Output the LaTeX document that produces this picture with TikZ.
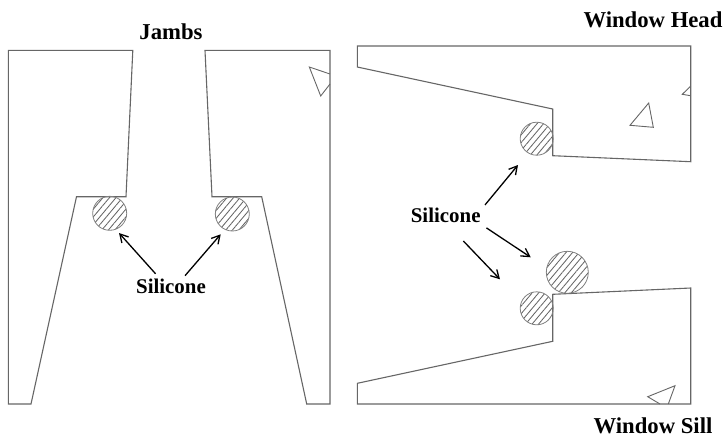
\documentclass[tikz,border=0pt]{standalone}
\usepackage{fontspec}
\setmainfont{Liberation Serif}
\usetikzlibrary{arrows.meta,patterns.meta}

\tikzset{
  outline/.style={draw=black!60,line width=1.1pt,line join=miter},
  sealant/.style={draw=black!50,circle,inner sep=0pt,line width=0.8pt,
    pattern={Lines[angle=50,distance=5pt,line width=0.85pt]},pattern color=black!60},
  heading/.style={inner sep=0pt,font=\fontsize{22.7}{24}\selectfont\bfseries},
  callout/.style={inner sep=0pt,font=\fontsize{20.9}{23}\selectfont\bfseries},
  pointer/.style={-{Straight Barb[length=8pt,width=9pt]},line width=1.3pt}
}

\begin{document}
\begin{tikzpicture}[x=1pt,y=-1pt]
\useasboundingbox (0,0) rectangle (725,437);

% frame pieces
\draw[outline] (8.4,50.4)--(132.8,50.4)--(126,196.7)--(76.5,196.7)--(31,404)--(8.4,404)--cycle;
\draw[outline] (205,50.4)--(330,50.4)--(330,404)--(306.7,404)--(261.7,196.7)--(212,196.7)--cycle;
\draw[outline] (357.3,46)--(690.7,46)--(690.7,161.7)--(552.7,155.7)--(552.7,109)--(357.3,67)--cycle;
\draw[outline] (357.3,383.3)--(552.7,341.3)--(552.7,294.3)--(690.7,288)--(690.7,404)--(357.3,404)--cycle;

% small triangles
\draw[outline,line width=0.9pt] (330,74)--(309.3,67)--(320.7,96)--(330,84);
\draw[outline,line width=0.9pt] (648.7,103)--(630,125.3)--(653.3,127.3)--cycle;
\draw[outline,line width=0.9pt] (690.7,86)--(682.3,94.3)--(690.7,95.7);
\draw[outline,line width=0.9pt] (660,404)--(647.7,396.7)--(675,385.7)--(668.3,404);

% silicone beads
\node[sealant,minimum size=34pt] (beadA) at (109.7,213.3) {};
\node[sealant,minimum size=34pt] (beadB) at (232.3,214) {};
\node[sealant,minimum size=33pt] (beadC) at (536.7,138.7) {};
\node[sealant,minimum size=42pt] (beadD) at (567.3,272.3) {};
\node[sealant,minimum size=33pt] (beadE) at (536.7,308.3) {};

% labels
\node[heading] (jambs) at (171,32) {Jambs};
\node[heading] (head) at (653,20) {Window Head};
\node[heading] (sill) at (653,426) {Window Sill};
\node[callout] (silA) at (171,286.5) {Silicone};
\node[callout] (silB) at (445.7,215) {Silicone};

% arrow tips
\coordinate (tipA) at (119,233);
\coordinate (tipB) at (220.7,234.3);
\coordinate (tipC) at (518,165);
\coordinate (tipD) at (530.7,257.3);
\coordinate (tipE) at (500,279.3);

\draw[pointer,shorten <=7pt] (silA.145)--(tipA);
\draw[pointer,shorten <=4.3pt] (silA.34)--(tipB);
\draw[pointer,shorten <=6.7pt] (silB.8)--(tipC);
\draw[pointer,shorten <=9.6pt] (silB.-13)--(tipD);
\draw[pointer,shorten <=25.6pt] (silB.south)--(tipE);
\end{tikzpicture}
\end{document}
